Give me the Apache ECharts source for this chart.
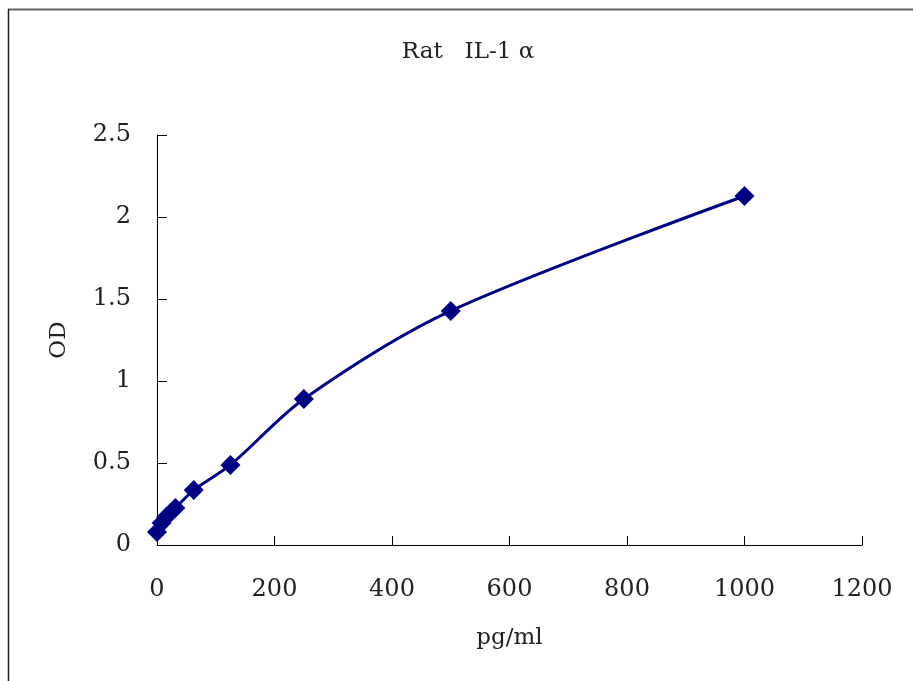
<!DOCTYPE html>
<html>
<head>
<meta charset="utf-8">
<script src="https://cdn.jsdelivr.net/npm/echarts@6/dist/echarts.min.js"></script>
<style>html,body{margin:0;padding:0;background:#fff;}#c{width:913px;height:681px;}</style>
</head>
<body>
<div id="c"></div>
<script>
const concentrations = [0, 7.8, 15.6, 31.25, 62.5, 125, 250, 500, 1000];
const odValues = [0.08, 0.134, 0.17, 0.226, 0.335, 0.488, 0.89, 1.427, 2.128];
const xTicks = [0, 200, 400, 600, 800, 1000, 1200];
const yTicks = [0, 0.5, 1, 1.5, 2, 2.5];
const titleText = 'Rat   IL-1 α';

const font = 'DejaVu Serif';
const chart = echarts.init(document.getElementById('c'));
chart.setOption({
  backgroundColor: '#fff',
  animation: false,
  title: {
    text: titleText,
    left: 463, top: 36, textAlign: 'center',
    textStyle: {fontFamily: font, fontSize: 23, fontWeight: 'normal', color: '#222'}
  },
  grid: {left: 157, right: 51, top: 135, bottom: 136, containLabel: false},
  xAxis: {
    type: 'value', min: xTicks[0], max: xTicks[xTicks.length-1], interval: 200,
    name: 'pg/ml', nameLocation: 'middle', nameGap: 82,
    nameTextStyle: {fontFamily: font, fontSize: 23, color: '#222'},
    axisLine: {show: true, lineStyle: {color: '#000', width: 1}},
    axisTick: {show: true, inside: true, length: 9, lineStyle: {color: '#000'}},
    axisLabel: {fontFamily: font, fontSize: 24, color: '#222', margin: 33, formatter: v => String(v)},
    splitLine: {show: false}
  },
  yAxis: {
    type: 'value', min: yTicks[0], max: yTicks[yTicks.length-1], interval: 0.5,
    name: 'OD', nameLocation: 'middle', nameGap: 86, nameRotate: 90,
    nameTextStyle: {fontFamily: font, fontSize: 23, color: '#222'},
    axisLine: {show: true, lineStyle: {color: '#000', width: 1}},
    axisTick: {show: true, inside: true, length: 10, lineStyle: {color: '#000'}},
    axisLabel: {fontFamily: font, fontSize: 24, color: '#222', margin: 26, formatter: v => String(v)},
    splitLine: {show: false}
  },
  series: [{
    type: 'line',
    data: concentrations.map((c, i) => [c, odValues[i]]),
    smooth: 0.3,
    symbol: 'diamond', symbolSize: 20,
    lineStyle: {color: '#000080', width: 3},
    itemStyle: {color: '#000080'}
  }],
  graphic: [
    {type: 'line', shape: {x1: 8, y1: 9.5, x2: 913, y2: 9.5}, style: {stroke: '#666', lineWidth: 2}},
    {type: 'line', shape: {x1: 8.5, y1: 9, x2: 8.5, y2: 681}, style: {stroke: '#222', lineWidth: 1.5}}
  ]
});
</script>
</body>
</html>
